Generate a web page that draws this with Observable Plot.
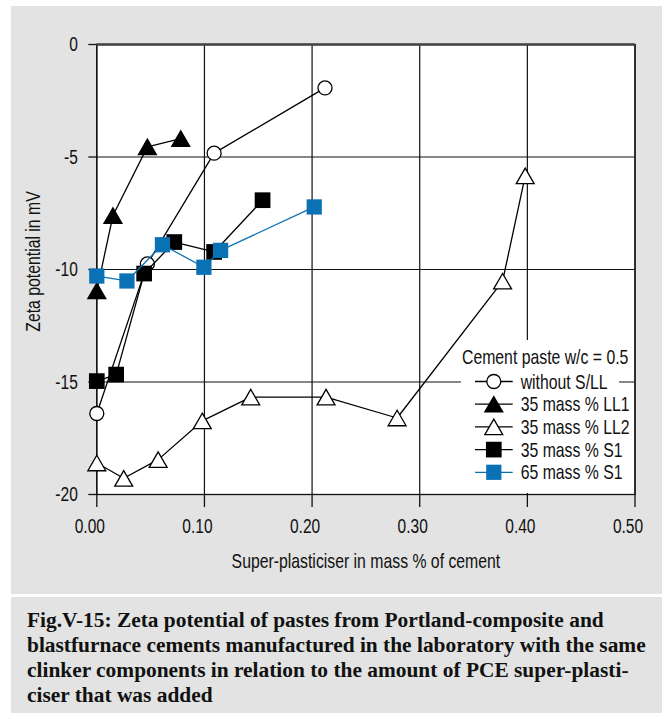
<!DOCTYPE html>
<html>
<head>
<meta charset="utf-8">
<script src="https://cdn.jsdelivr.net/npm/d3@7"></script>
<script src="https://cdn.jsdelivr.net/npm/@observablehq/plot@0.6"></script>
<style>
  html, body { margin: 0; padding: 0; background: #fff; }
  #wrap { position: relative; width: 666px; height: 713px; background: #fff; overflow: hidden; }
  .box { position: absolute; background: #e2e3e2; }
  #chart { position: absolute; left: 0; top: 0; }
  #caption {
    position: absolute; left: 11px; top: 597px; width: 651px; height: 116px;
    background: #e2e3e2; box-sizing: border-box; padding: 11px 0 0 16px;
    font-family: "Liberation Serif", "Times New Roman", serif; font-weight: bold;
    font-size: 21.4px; line-height: 25px; color: #111; white-space: nowrap;
  }
</style>
</head>
<body>
<div id="wrap">
  <div class="box" style="left:11px;top:6px;width:651px;height:588px;"></div>
  <div id="chart"></div>
  <div id="caption"></div>
</div>
<script>
// ---- data ----
const seriesNames = ["without S/LL", "35 mass % LL1", "35 mass % LL2", "35 mass % S1", "65 mass % S1"];
const xNoSLL = [0.0, 0.047, 0.109, 0.212];
const yNoSLL = [-16.4, -9.75, -4.83, -1.93];
const xLL1 = [0.0, 0.015, 0.047, 0.078];
const yLL1 = [-10.95, -7.6, -4.55, -4.18];
const xLL2 = [0.0, 0.025, 0.057, 0.098, 0.143, 0.213, 0.279, 0.377, 0.398];
const yLL2 = [-18.6, -19.28, -18.45, -16.73, -15.67, -15.67, -16.6, -10.52, -5.84];
const xS1_35 = [0.0, 0.018, 0.044, 0.072, 0.109, 0.154];
const yS1_35 = [-14.96, -14.67, -10.18, -8.78, -9.22, -6.92];
const xS1_65 = [0.0, 0.028, 0.061, 0.0995, 0.115, 0.202];
const yS1_65 = [-10.29, -10.51, -8.9, -9.9, -9.15, -7.22];
const xTicks = [0, 0.1, 0.2, 0.3, 0.4, 0.5];
const yTicks = [0, -5, -10, -15, -20];
const xTitle = "Super-plasticiser in mass % of cement";
const yTitle = "Zeta potential in mV";
const legendTitle = "Cement paste w/c = 0.5";
const captionLines = [
  "Fig.V-15: Zeta potential of pastes from Portland-composite and",
  "blastfurnace cements manufactured in the laboratory with the same",
  "clinker components in relation to the amount of PCE super-plasti-",
  "ciser that was added"
];

const FONT = '"Liberation Sans", Arial, Helvetica, sans-serif';
const FS = 20;          // titles and legend
const FS_TICK = 21;     // tick labels
const SQUEEZE = 0.79;   // horizontal compression to mimic a condensed face
const SQUEEZE_TICK = 0.74;
const BLUE = "#0b71b5";

const zip = (xs, ys) => xs.map((x, i) => ({x, y: ys[i]}));
const series = [
  {name: seriesNames[0], data: zip(xNoSLL, yNoSLL), symbol: "circle", fill: "white", stroke: "black", line: "black", r: 7, dy: 0},
  {name: seriesNames[1], data: zip(xLL1, yLL1), symbol: "triangle", fill: "black", stroke: "black", line: "black", r: 6.65, dy: 2.6},
  {name: seriesNames[2], data: zip(xLL2, yLL2), symbol: "triangle", fill: "white", stroke: "black", line: "black", r: 6.65, dy: 2.6},
  {name: seriesNames[3], data: zip(xS1_35, yS1_35), symbol: "square", fill: "black", stroke: "none", line: "black", r: 8.86, dy: 0},
  {name: seriesNames[4], data: zip(xS1_65, yS1_65), symbol: "square", fill: BLUE, stroke: "none", line: BLUE, r: 8.6, dy: 0}
];

const seriesMarks = series.flatMap(s => [
  Plot.line(s.data, {x: "x", y: "y", stroke: s.line, strokeWidth: 1.3}),
  Plot.dot(s.data, {x: "x", y: "y", symbol: s.symbol, r: s.r, fill: s.fill, stroke: s.stroke, strokeWidth: 1.3, dy: s.dy})
]);

const chart = Plot.plot({
  width: 666,
  height: 594,
  marginLeft: 96.3,
  marginRight: 31.5,
  marginTop: 44,
  marginBottom: 100,
  x: {domain: [0, 0.5]},
  y: {domain: [-20, 0]},
  style: {background: "transparent", fontFamily: FONT, fontSize: FS + "px", color: "#111", overflow: "visible"},
  marks: [
    Plot.frame({fill: "white", stroke: null}),
    Plot.gridX({ticks: xTicks, stroke: "#111", strokeOpacity: 1, strokeWidth: 1.2}),
    Plot.gridY({ticks: yTicks, stroke: "#111", strokeOpacity: 1, strokeWidth: 1.2}),
    Plot.frame({stroke: "#111", strokeWidth: 1.3}),
    Plot.ruleY([0], {stroke: "#444", strokeWidth: 2.4}),
    Plot.axisX({ticks: xTicks, tickSize: 13, tickFormat: () => "", label: null, stroke: "#111", strokeWidth: 1.3}),
    Plot.axisX({ticks: xTicks, tickSize: 0, tickPadding: 23.4, dx: -7, tickFormat: d3.format(".2f"), label: null, fontSize: FS_TICK}),
    Plot.axisY({ticks: yTicks, tickSize: 8, tickPadding: 11, tickFormat: d => String(d), label: null, fontSize: FS_TICK, stroke: "#111", strokeWidth: 1.3}),
    Plot.text([xTitle], {frameAnchor: "bottom", textAnchor: "middle", lineAnchor: "middle", dy: 67, text: d => d, fontSize: FS}),
    Plot.text([yTitle], {frameAnchor: "left", textAnchor: "middle", lineAnchor: "middle", rotate: -90, dx: -63, dy: -8, text: d => d, fontSize: FS}),
    ...seriesMarks
  ]
});
document.getElementById("chart").appendChild(chart);

// ---- legend (drawn into the same svg) ----
const svg = d3.select(chart);
const lg = svg.append("g").attr("font-family", FONT).attr("font-size", FS).attr("fill", "#111").attr("text-anchor", "start");
lg.append("rect").attr("x", 461).attr("y", 340).attr("width", 158).attr("height", 153).attr("fill", "white");
lg.append("text").attr("x", 462).attr("y", 364.3).text(legendTitle);
const symMap = {circle: d3.symbolCircle, triangle: d3.symbolTriangle, square: d3.symbolSquare};
series.forEach((s, i) => {
  const cy = 381.5 + i * 22.7;
  lg.append("line").attr("x1", 475).attr("x2", 512.7).attr("y1", cy).attr("y2", cy)
    .attr("stroke", s.line).attr("stroke-width", 1.3);
  lg.append("path")
    .attr("d", d3.symbol(symMap[s.symbol], Math.PI * s.r * s.r)())
    .attr("transform", `translate(493.8,${cy + s.dy})`)
    .attr("fill", s.fill).attr("stroke", s.stroke).attr("stroke-width", 1.3);
  lg.append("text").attr("x", 520.7).attr("y", cy).attr("dy", "0.36em").text(s.name);
});

// ---- condense chart text horizontally about its anchor ----
chart.querySelectorAll("text").forEach(el => {
  const isTick = !!el.closest('[aria-label$="tick label"]');
  const k = isTick ? SQUEEZE_TICK : SQUEEZE;
  const t = el.getAttribute("transform") || "";
  el.setAttribute("transform", (t + ` scale(${k},1)`).trim());
  const fix = node => {
    const x = node.getAttribute("x");
    if (x != null && x !== "" && !/em$/.test(x)) node.setAttribute("x", parseFloat(x) / k);
  };
  fix(el);
  el.querySelectorAll("tspan").forEach(fix);
});

// ---- caption ----
document.getElementById("caption").innerHTML = captionLines.map(l => l.replace(/&/g, "&amp;")).join("<br>");
</script>
</body>
</html>
